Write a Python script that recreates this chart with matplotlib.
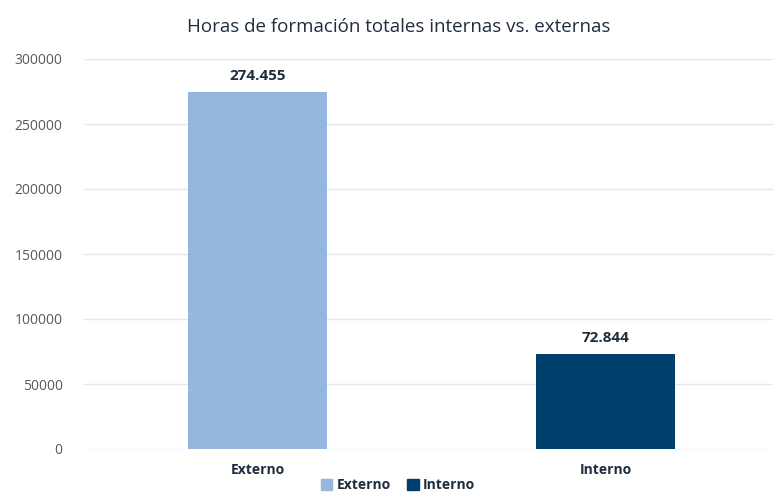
import matplotlib.pyplot as plt
from matplotlib.patches import Patch

categorias = ['Externo', 'Interno']
horas = [274455, 72844]
etiquetas = ['274.455', '72.844']
colores = ['#95b7de', '#003f6b']

plt.rcParams['font.family'] = ['Open Sans', 'DejaVu Sans']

fig = plt.figure(figsize=(7.73, 4.93), dpi=100)
ax = fig.add_axes([83.5 / 773, 1 - 449 / 493, 1 - 83.5 / 773, (449 - 59) / 493])

x = range(len(categorias))
barras = ax.bar(x, horas, width=0.4, color=colores, zorder=2)

for b, txt in zip(barras, etiquetas):
    ax.text(b.get_x() + b.get_width() / 2, b.get_height() + 7000, txt,
            ha='center', va='bottom', fontsize=11, fontweight='bold', color='#1f2d3d')

ax.set_ylim(0, 300000)
ax.set_xlim(-0.5, 1.5 - 6.5 / 348)
ax.set_yticks(range(0, 300001, 50000))
ax.set_xticks(list(x))
ax.set_xticklabels(categorias, fontsize=10, fontweight='bold', color='#1f2d3d')
ax.tick_params(axis='y', labelsize=10, labelcolor='#595959', length=0, pad=15)
ax.tick_params(axis='x', length=0, pad=10)
ax.grid(axis='y', color='#dde8f0', linewidth=1, zorder=0)
for s in ax.spines.values():
    s.set_visible(False)

fig.text(0.516, 0.945, 'Horas de formación totales internas vs. externas',
         ha='center', va='center', fontsize=13.5, color='#1f2d3d')

manejadores = [Patch(color=c, label=l) for c, l in zip(colores, categorias)]
fig.legend(handles=manejadores, loc='lower center', bbox_to_anchor=(0.515, -0.018),
           ncol=2, frameon=False, handlelength=0.8, handleheight=0.8,
           handletextpad=0.3, columnspacing=1.2, borderpad=0.2,
           prop={'weight': 'bold', 'size': 10})
for t in fig.legends[0].get_texts():
    t.set_color('#1f2d3d')

fig.savefig('out.png', dpi=100)
